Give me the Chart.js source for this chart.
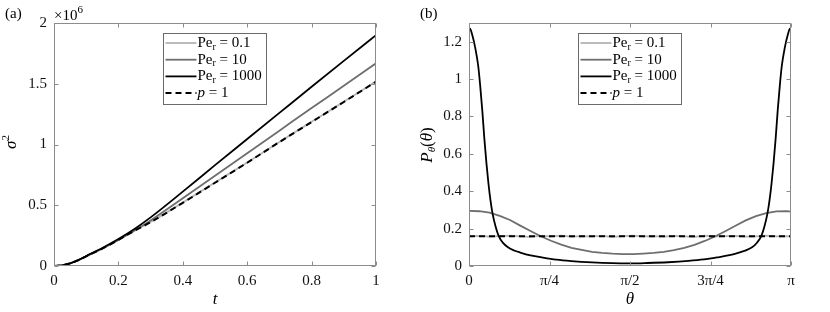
<!DOCTYPE html>
<html lang="en">
<head>
  <meta charset="UTF-8">
  <title>Dispersion and orientation distribution</title>
  <script src="https://cdn.jsdelivr.net/npm/chart.js"></script>
  <style>
    body { margin: 0; background: #fff; }
    .wrap { display: flex; width: 830px; height: 312px; }
    .panel { position: relative; width: 415px; height: 312px; }
  </style>
</head>
<body>
  <div class="wrap">
    <div class="panel"><canvas id="sigmaChart"></canvas></div>
    <div class="panel"><canvas id="thetaChart"></canvas></div>
  </div>

  <script>
    // (a) variance sigma^2 against t, values in units of 10^6
    const tValues = [0, 0.025, 0.05, 0.075, 0.1, 0.15, 0.2, 0.25, 0.3, 0.4, 0.5, 0.6, 0.7, 0.8, 0.9, 1];
    const sigmaPe01   = [0, 0.006, 0.022, 0.047, 0.08, 0.143, 0.215, 0.291, 0.362, 0.522, 0.687, 0.852, 1.021, 1.187, 1.352, 1.52];
    const sigmaPe10   = [0, 0.006, 0.022, 0.047, 0.08, 0.144, 0.215, 0.292, 0.375, 0.557, 0.743, 0.928, 1.114, 1.30, 1.483, 1.668];
    const sigmaPe1000 = [0, 0.006, 0.022, 0.048, 0.082, 0.148, 0.222, 0.305, 0.40, 0.612, 0.83, 1.045, 1.26, 1.475, 1.688, 1.90];
    const sigmaP1     = [0, 0.006, 0.022, 0.047, 0.08, 0.143, 0.215, 0.29, 0.36, 0.52, 0.685, 0.85, 1.02, 1.185, 1.35, 1.517];

    // (b) orientation distribution P(theta)
    const thetaGrid = [0, 0.1, 0.2, 0.3, 0.4, 0.5, 0.6, 0.7, 0.8, 0.9, 1.0, 1.1, 1.2, 1.3, 1.4, 1.5,
                       1.6, 1.7, 1.8, 1.9, 2.0, 2.1, 2.2, 2.3, 2.4, 2.5, 2.6, 2.7, 2.8, 2.9, 3.0, 3.1, 3.1416];
    const pPe01 = [0.158, 0.161, 0.157, 0.160, 0.162, 0.158, 0.156, 0.161, 0.159, 0.163, 0.157, 0.160, 0.158, 0.161, 0.156, 0.160,
                   0.162, 0.158, 0.160, 0.157, 0.161, 0.159, 0.156, 0.162, 0.158, 0.160, 0.161, 0.157, 0.159, 0.162, 0.158, 0.160, 0.159];
    const pPe10 = [0.295, 0.293, 0.285, 0.268, 0.246, 0.216, 0.187, 0.159, 0.135, 0.114, 0.097, 0.086, 0.076, 0.070, 0.066, 0.064,
                   0.063, 0.066, 0.070, 0.076, 0.085, 0.097, 0.113, 0.134, 0.158, 0.186, 0.215, 0.244, 0.267, 0.283, 0.292, 0.294, 0.291];
    const thetaHigh = [0, 0.01, 0.03, 0.06, 0.09, 0.11, 0.13, 0.15, 0.17, 0.19, 0.21, 0.23, 0.26, 0.29, 0.33, 0.38, 0.44, 0.5,
                       0.6, 0.72, 0.85, 1.0, 1.2, 1.4, 1.5708, 1.7416, 1.9416, 2.1416, 2.2916, 2.4216, 2.5416, 2.6416, 2.7016,
                       2.7616, 2.8116, 2.8516, 2.8816, 2.9116, 2.9316, 2.9516, 2.9716, 2.9916, 3.0116, 3.0316, 3.0516, 3.0816,
                       3.1116, 3.1316, 3.1416];
    const pPe1000 = [1.26, 1.27, 1.24, 1.17, 1.07, 0.96, 0.83, 0.68, 0.55, 0.44, 0.35, 0.28, 0.21, 0.16, 0.125, 0.10, 0.083, 0.072,
                     0.057, 0.045, 0.034, 0.026, 0.019, 0.015, 0.014, 0.016, 0.020, 0.027, 0.035, 0.046, 0.058, 0.073, 0.084,
                     0.10, 0.126, 0.16, 0.21, 0.28, 0.35, 0.44, 0.55, 0.68, 0.83, 0.96, 1.07, 1.17, 1.24, 1.27, 1.26];
    const thetaFlat = [0, 3.1416];
    const pP1 = [0.159, 0.159];

    const thetaTickValues = [0, 0.7854, 1.5708, 2.3562, 3.1416];
    const thetaTickLabels = ['0', 'π/4', 'π/2', '3π/4', 'π'];

    const SERIF = 'Liberation Serif';
    const AXIS = '#8c8c8c';
    const LIGHT = '#b4b4b4', MID = '#6e6e6e', DARK = '#000000';

    Chart.defaults.font.family = SERIF;

    function pts(xs, ys) {
      return xs.map((x, i) => ({ x: x, y: ys[i] }));
    }

    // draws a run of text pieces (text, font, dy) centred or left aligned
    function drawRich(ctx, parts, x, y, rot, align) {
      ctx.save();
      ctx.translate(x, y);
      if (rot) ctx.rotate(rot);
      ctx.textBaseline = 'middle';
      ctx.textAlign = 'left';
      ctx.fillStyle = '#000';
      let w = 0;
      parts.forEach(p => { ctx.font = p[1] + ' ' + SERIF; w += ctx.measureText(p[0]).width; });
      let cx = align === 'left' ? 0 : -w / 2;
      parts.forEach(p => {
        ctx.font = p[1] + ' ' + SERIF;
        ctx.fillText(p[0], cx, p[2] || 0);
        cx += ctx.measureText(p[0]).width;
      });
      ctx.restore();
    }

    // box round the axes with inward ticks on all four sides
    const framePlugin = {
      id: 'frame',
      afterDatasetsDraw(chart) {
        const { ctx, chartArea: a, scales } = chart;
        const L = Math.round(a.left) + 0.5, R = Math.round(a.right) - 0.5;
        const T = Math.round(a.top) + 0.5, B = Math.round(a.bottom) - 0.5;
        ctx.save();
        ctx.strokeStyle = AXIS;
        ctx.lineWidth = 1;
        ctx.strokeRect(L, T, R - L, B - T);
        ctx.beginPath();
        scales.x.ticks.forEach(t => {
          const px = Math.round(scales.x.getPixelForValue(t.value)) + 0.5;
          ctx.moveTo(px, B); ctx.lineTo(px, B - 4);
          ctx.moveTo(px, T); ctx.lineTo(px, T + 4);
        });
        scales.y.ticks.forEach(t => {
          const py = Math.round(scales.y.getPixelForValue(t.value)) + 0.5;
          ctx.moveTo(L, py); ctx.lineTo(L + 4, py);
          ctx.moveTo(R, py); ctx.lineTo(R - 4, py);
        });
        ctx.stroke();
        ctx.restore();
      }
    };

    // legend box inside the axes, like the MATLAB one
    const boxLegendPlugin = {
      id: 'boxLegend',
      afterDraw(chart, args, opts) {
        const { ctx, chartArea: a } = chart;
        const bx = Math.round(a.left + 109) + 0.5, by = 33.5, bw = 103, bh = 71;
        ctx.save();
        ctx.fillStyle = '#fff';
        ctx.fillRect(bx, by, bw, bh);
        ctx.strokeStyle = '#6a6a6a';
        ctx.lineWidth = 1;
        ctx.strokeRect(bx, by, bw, bh);
        chart.data.datasets.forEach((ds, i) => {
          const y = 43 + i * 16.7;
          ctx.beginPath();
          ctx.strokeStyle = ds.borderColor;
          ctx.lineWidth = ds.borderWidth;
          ctx.setLineDash(ds.borderDash || []);
          ctx.moveTo(bx + 2, y);
          ctx.lineTo(bx + 33, y);
          ctx.stroke();
          ctx.setLineDash([]);
          drawRich(ctx, opts.items[i], bx + 34, y, 0, 'left');
        });
        ctx.restore();
      }
    };

    const legendItems = [
      [['Pe', '15px'], ['r', '10px', 4], [' = 0.1', '15px']],
      [['Pe', '15px'], ['r', '10px', 4], [' = 10', '15px']],
      [['Pe', '15px'], ['r', '10px', 4], [' = 1000', '15px']],
      [['p', 'italic 15px'], [' = 1', '15px']]
    ];

    function makeDatasets(series) {
      const styles = [
        { borderColor: LIGHT, borderWidth: 1.8, order: 4 },
        { borderColor: MID, borderWidth: 1.8, order: 3 },
        { borderColor: DARK, borderWidth: 1.8, order: 2 },
        { borderColor: DARK, borderWidth: 2, borderDash: [6, 4], order: 1 }
      ];
      return series.map((s, i) => Object.assign({
        data: s.data,
        pointRadius: 0,
        fill: false,
        tension: 0,
        cubicInterpolationMode: s.smooth ? 'monotone' : 'default'
      }, styles[i]));
    }

    function makeOptions(xScale, yScale, texts) {
      const tickFont = { family: SERIF, size: 15 };
      return {
        responsive: true,
        maintainAspectRatio: false,
        animation: false,
        events: [],
        layout: { padding: { top: 23, right: 39, left: 0, bottom: 0 } },
        plugins: {
          legend: { display: false },
          tooltip: { enabled: false },
          boxLegend: { items: legendItems },
          texts: texts
        },
        scales: {
          x: Object.assign({
            type: 'linear',
            grid: { display: false, drawTicks: false },
            border: { display: false },
            ticks: Object.assign({ color: '#111', font: tickFont, padding: 6, maxRotation: 0 }, xScale.ticks),
            afterFit: s => { s.height = 46; }
          }, xScale.base),
          y: Object.assign({
            grid: { display: false, drawTicks: false },
            border: { display: false },
            ticks: Object.assign({ color: '#111', font: tickFont, padding: 7 }, yScale.ticks),
            afterFit: s => { s.width = 54; }
          }, yScale.base)
        }
      };
    }

    const textPlugin = {
      id: 'texts',
      afterDraw(chart, args, opts) {
        opts.list.forEach(t => drawRich(chart.ctx, t.parts, t.x, t.y, t.rot || 0, t.align));
      }
    };

    new Chart(document.getElementById('sigmaChart'), {
      type: 'line',
      data: {
        datasets: makeDatasets([
          { data: pts(tValues, sigmaPe01), smooth: true },
          { data: pts(tValues, sigmaPe10), smooth: true },
          { data: pts(tValues, sigmaPe1000), smooth: true },
          { data: pts(tValues, sigmaP1), smooth: true }
        ])
      },
      options: makeOptions(
        { base: { min: 0, max: 1 }, ticks: { stepSize: 0.2, callback: v => String(Math.round(v * 10) / 10) } },
        { base: { min: 0, max: 2 }, ticks: { stepSize: 0.5, callback: v => String(v) } },
        { list: [
          { parts: [['(a)', '15px']], x: 5, y: 14, align: 'left' },
          { parts: [['×10', '15px'], ['6', '11px', -6]], x: 54, y: 16, align: 'left' },
          { parts: [['σ', 'italic 17px'], ['2', '11px', -6]], x: 12, y: 142, rot: -Math.PI / 2 },
          { parts: [['t', 'italic 17px']], x: 215, y: 300 }
        ] }
      ),
      plugins: [framePlugin, boxLegendPlugin, textPlugin]
    });

    new Chart(document.getElementById('thetaChart'), {
      type: 'line',
      data: {
        datasets: makeDatasets([
          { data: pts(thetaGrid, pPe01) },
          { data: pts(thetaGrid, pPe10) },
          { data: pts(thetaHigh, pPe1000), smooth: true },
          { data: pts(thetaFlat, pP1) }
        ])
      },
      options: makeOptions(
        {
          base: {
            min: 0, max: 3.1416,
            afterBuildTicks: s => { s.ticks = thetaTickValues.map(v => ({ value: v })); }
          },
          ticks: { callback: (v, i) => thetaTickLabels[i] }
        },
        { base: { min: 0, max: 1.3 }, ticks: { stepSize: 0.2, includeBounds: false, callback: v => String(Math.round(v * 10) / 10) } },
        { list: [
          { parts: [['(b)', '15px']], x: 5, y: 14, align: 'left' },
          { parts: [['P', 'italic 17px'], ['θ', 'italic 11px', 4], ['(', '17px'], ['θ', 'italic 17px'], [')', '17px']], x: 13, y: 145, rot: -Math.PI / 2 },
          { parts: [['θ', 'italic 17px']], x: 215, y: 300 }
        ] }
      ),
      plugins: [framePlugin, boxLegendPlugin, textPlugin]
    });
  </script>
</body>
</html>
